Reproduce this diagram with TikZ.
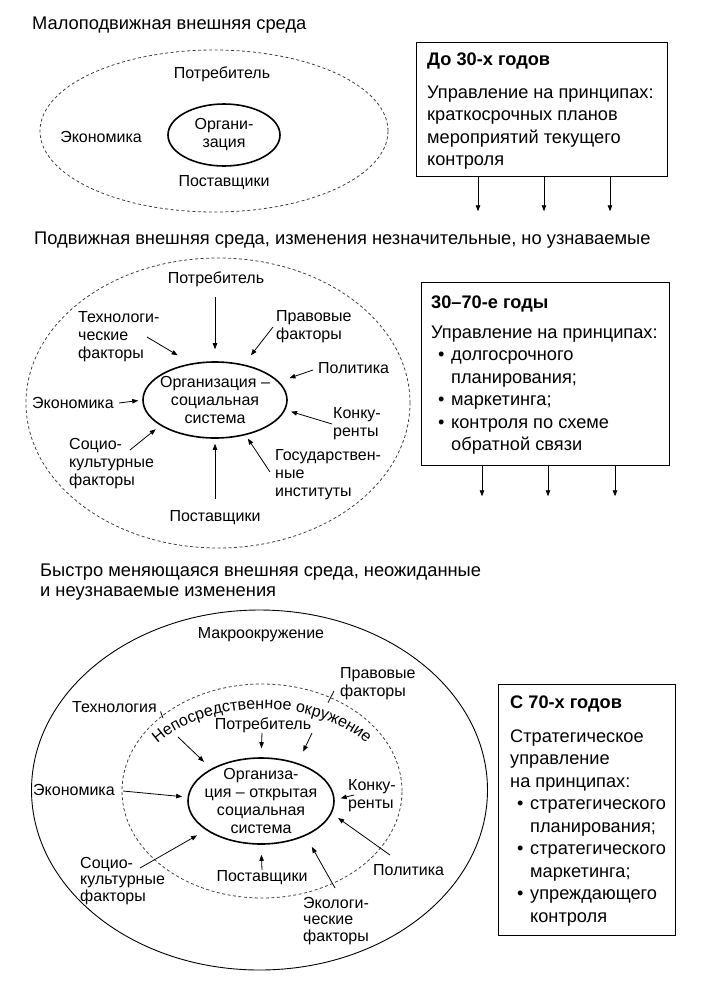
\documentclass[tikz,border=0pt]{standalone}
\usepackage{fontspec}
\setmainfont{Liberation Sans}
\usetikzlibrary{arrows.meta,shapes.geometric,decorations.text}

\newcommand{\lblfont}{\fontsize{16}{18}\selectfont}
\newcommand{\hdfont}{\fontsize{18.3}{20}\selectfont}
\newcommand{\boxfont}{\fontsize{18.2}{22.5}\selectfont}
\newcommand{\bul}{\makebox[20pt][l]{\hspace{7pt}\textbullet}}
\newcommand{\ind}{\hspace*{20pt}}

\tikzset{
  lbl/.style={inner sep=0pt, font=\lblfont, align=left},
  hd/.style={inner sep=0pt, font=\hdfont, align=left, anchor=west},
  orgell/.style={ellipse, draw, line width=1.6pt, inner sep=0pt},
  envell/.style={dash pattern=on 3pt off 2.5pt, line width=0.8pt, black!75},
  boxframe/.style={draw, line width=1.3pt, inner sep=0pt, anchor=north west},
  boxtxt/.style={inner sep=0pt, font=\boxfont, align=left, anchor=north west},
  arr/.style={-{Triangle[length=6pt,width=4.5pt]}, line width=0.8pt},
}

\begin{document}
\begin{tikzpicture}[x=1pt,y=1pt]
  \useasboundingbox (0,0) rectangle (707,-988);

  % --- slow environment
  \node[hd] (title1) at (32,-25) {Малоподвижная внешняя среда};
  \draw[envell] (214,-131) ellipse [x radius=174, y radius=81];
  \node[orgell, minimum width=112, minimum height=62] (org1) at (224,-135) {};
  \node[lbl, align=center] (org1t) at (org1) {Органи-\\зация};
  \node[lbl] (potr1) at (222,-74) {Потребитель};
  \node[lbl] (econ1) at (101,-137) {Экономика};
  \node[lbl] (post1) at (224,-183) {Поставщики};

  \node[boxframe, minimum width=251, minimum height=134] (box1) at (416,-42) {};
  \node[boxtxt] (box1t) at ([shift={(11,-11)}]box1.north west)
    {\textbf{До 30-х годов}\\[10pt]Управление на принципах:\\краткосрочных планов\\мероприятий текущего\\контроля};
  \foreach \dx in {62,128,194}
    \draw[arr] ([xshift=\dx]box1.south west) -- ++(0,-34);

  % --- moving environment
  \node[hd] (title2) at (34,-240) {Подвижная внешняя среда, изменения незначительные, но узнаваемые};
  \draw[envell] (218,-403) ellipse [x radius=192, y radius=145];
  \node[orgell, minimum width=144, minimum height=76] (org2) at (215,-400) {};
  \node[lbl, align=center] (org2t) at (org2) {Организация –\\социальная\\система};
  \node[lbl, anchor=center] (potr2) at (216,-279) {Потребитель};
  \node[lbl, anchor=west] (tech2) at (78,-336.5) {Технологи-\\ческие\\факторы};
  \node[lbl, anchor=west] (prav2) at (276,-326.5) {Правовые\\факторы};
  \node[lbl, anchor=west] (pol2) at (318,-368) {Политика};
  \node[lbl, anchor=west] (econ2) at (32,-403) {Экономика};
  \node[lbl, anchor=west] (konk2) at (333,-424) {Конку-\\ренты};
  \node[lbl, anchor=west] (gos2) at (275,-475) {Государствен-\\ные\\институты};
  \node[lbl, anchor=west] (soc2) at (69,-464) {Социо-\\культурные\\факторы};
  \node[lbl, anchor=center] (post2) at (215,-518) {Поставщики};
  \coordinate (s2potr) at (215,-297);
  \coordinate (s2tech) at (147,-337);
  \coordinate (s2prav) at (273,-327);
  \coordinate (s2pol) at (313,-370);
  \coordinate (s2econ) at (119,-403);
  \coordinate (s2konk) at (332,-424);
  \coordinate (s2gos) at (270,-472);
  \coordinate (s2soc) at (130,-450);
  \coordinate (s2post) at (215,-499);
  \draw[arr, shorten >=12] (s2potr) -- (org2.90);
  \draw[arr, shorten >=15.7] (s2tech) -- (org2.123.5);
  \draw[arr, shorten >=11.5] (s2prav) -- (org2.51.4);
  \draw[arr, shorten >=10.9] (s2pol) -- (org2.16.6);
  \draw[arr, shorten >=4] (s2econ) -- (org2.180);
  \draw[arr, shorten >=5.9] (s2konk) -- (org2.-8.5);
  \draw[arr, shorten >=4.1] (s2gos) -- (org2.-49.4);
  \draw[arr, shorten >=5.8] (s2soc) -- (org2.205.4);
  \draw[arr, shorten >=5] (s2post) -- (org2.270);

  \node[boxframe, minimum width=248, minimum height=183] (box2) at (421,-282) {};
  \node[boxtxt] (box2t) at ([shift={(10,-14)}]box2.north west)
    {\textbf{30–70-е годы}\\[7pt]Управление на принципах:\\\bul долгосрочного\\\ind планирования;\\\bul маркетинга;\\\bul контроля по схеме\\\ind обратной связи};
  \foreach \dx in {61,127,194}
    \draw[arr] ([xshift=\dx]box2.south west) -- ++(0,-30);

  % --- fast environment
  \node[hd] (title3) at (40,-582.5) {Быстро меняющаяся внешняя среда, неожиданные\\и неузнаваемые изменения};
  \draw[line width=0.9pt] (259.5,-790) ellipse [x radius=228, y radius=180];
  \draw[envell] (262,-791) ellipse [x radius=140, y radius=107];
  \path[decorate, decoration={text along path, text align=center,
      text={|\lblfont|Непосредственное окружение}}]
    (262,-791) ++(150:128 and 82) arc [start angle=150, end angle=30, x radius=128, y radius=82];
  \node[orgell, minimum width=146, minimum height=86] (org3) at (261,-801) {};
  \node[lbl, align=center] (org3t) at (org3) {Организа-\\ция – открытая\\социальная\\система};
  \node[lbl, anchor=center] (makro) at (261,-635) {Макроокружение};
  \node[lbl, anchor=west] (tech3) at (72,-707) {Технология};
  \node[lbl, anchor=west] (prav3) at (340,-684) {Правовые\\факторы};
  \node[lbl, anchor=center] (potr3) at (263,-725) {Потребитель};
  \node[lbl, anchor=west] (econ3) at (33,-790) {Экономика};
  \node[lbl, anchor=west] (konk3) at (348,-795.5) {Конку-\\ренты};
  \node[lbl, anchor=west] (pol3) at (373,-870) {Политика};
  \node[lbl, anchor=west, font=\fontsize{16}{16.5}\selectfont] (eco3) at (303,-921) {Экологи-\\ческие\\факторы};
  \node[lbl, anchor=center] (post3) at (262,-878) {Поставщики};
  \node[lbl, anchor=west, font=\fontsize{16}{16.5}\selectfont] (soc3) at (80,-881) {Социо-\\культурные\\факторы};
  \coordinate (s3potr) at (262,-733);
  \coordinate (s3tech) at (178,-737);
  \coordinate (s3prav) at (312,-733);
  \coordinate (s3econ) at (123,-791);
  \coordinate (s3konk) at (354,-795);
  \coordinate (s3pol) at (390,-855);
  \coordinate (s3eco) at (335,-888);
  \coordinate (s3post) at (262,-870);
  \coordinate (s3soc) at (140,-868);
  \draw[arr, shorten >=9] (s3potr) -- (org3.90);
  \draw[arr, shorten >=9.9] (s3tech) -- (org3.147.3);
  \draw[arr, shorten >=12.7] (s3prav) -- (org3.46.4);
  \draw[arr, shorten >=5.4] (s3econ) -- (org3.177.2);
  \draw[arr, shorten >=6.1] (s3konk) -- (org3.1.7);
  \draw[arr, shorten >=7.8] (s3pol) -- (org3.-10.1);
  \draw[arr, shorten >=12.7] (s3eco) -- (org3.-38.6);
  \draw[arr, shorten >=10] (s3post) -- (org3.270);
  \draw[arr, shorten >=10.3] (s3soc) -- (org3.208.1);
  % leader pieces across the dashed ring
  \draw[line width=0.8pt] (160.5,-711.5) -- (163,-718);
  \draw[line width=0.8pt] (334,-691) -- (328,-702.6);

  \node[boxframe, minimum width=177, minimum height=251] (box3) at (498,-684) {};
  \node[boxtxt] (box3t) at ([shift={(12,-12)}]box3.north west)
    {\textbf{С 70-х годов}\\[11pt]Стратегическое\\управление\\на принципах:\\\bul стратегического\\\ind планирования;\\\bul стратегического\\\ind маркетинга;\\\bul упреждающего\\\ind контроля};
\end{tikzpicture}
\end{document}
